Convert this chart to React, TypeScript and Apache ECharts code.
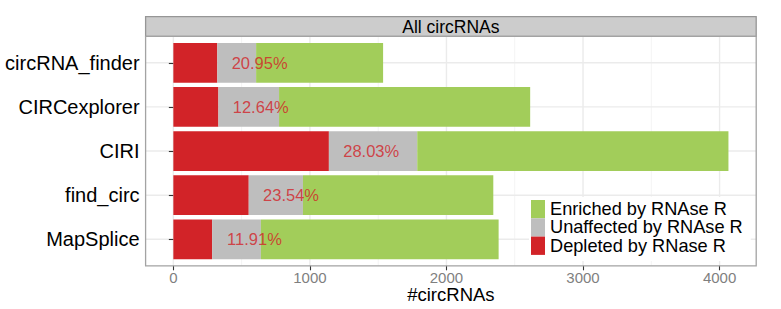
import React, { useEffect, useRef } from "react";
import * as echarts from "echarts";

// ---- data ----
const categories = ["circRNA_finder", "CIRCexplorer", "CIRI", "find_circ", "MapSplice"];
const depleted = [322, 330, 1139, 552, 284];
const unaffected = [284, 444, 647, 397, 357];
const enriched = [930, 1839, 2279, 1394, 1741];
const depletedPct = [20.95, 12.64, 28.03, 23.54, 11.91];
const xTicks = [0, 1000, 2000, 3000, 4000];
const xMinorTicks = [500, 1500, 2500, 3500];
const seriesNames = ["Depleted by RNase R", "Unaffected by RNAse R", "Enriched by RNAse R"];
const legendOrder = ["Enriched by RNAse R", "Unaffected by RNAse R", "Depleted by RNase R"];
const stripTitle = "All circRNAs";
const xTitle = "#circRNAs";

// ---- layout / style ----
const W = 781;
const H = 309;
const PANEL = { left: 145.6, right: 756.2, top: 36.3, bottom: 265.8 };
const STRIP_TOP = 16.7;
const CAT_EXPAND = 0.6;
const X_EXPAND = 0.05;
const LABEL_OFFSET = 310;
const FONT = "'Liberation Sans', Arial, Helvetica, sans-serif";
const RED = "#D22328";
const GRAY = "#BEBEBE";
const GREEN = "#A2CD5A";
const COLORS = [RED, GRAY, GREEN];

export default function App() {
  const ref = useRef<HTMLDivElement>(null);

  useEffect(() => {
    if (!ref.current) return;
    const chart = echarts.init(ref.current, undefined, { renderer: "svg" });

    const n = categories.length;
    const unit = (PANEL.bottom - PANEL.top) / (n - 1 + 2 * CAT_EXPAND);
    const pad = (CAT_EXPAND - 0.5) * unit;
    const gridTop = PANEL.top + pad;
    const gridBottom = PANEL.bottom - pad;

    const totals = categories.map((_, i) => depleted[i] + unaffected[i] + enriched[i]);
    const maxTotal = Math.max(...totals);
    const xMin = -X_EXPAND * maxTotal;
    const xMax = maxTotal * (1 + X_EXPAND);

    const values = [depleted, unaffected, enriched];

    const barSeries = seriesNames.map((name, k) => ({
      name,
      type: "bar",
      stack: "total",
      barWidth: "90%",
      itemStyle: { color: COLORS[k] },
      data: values[k],
      z: 2,
    }));

    const option: any = {
      animation: false,
      textStyle: { fontFamily: FONT },
      grid: {
        left: PANEL.left,
        right: W - PANEL.right,
        top: gridTop,
        bottom: H - gridBottom,
        containLabel: false,
        outerBoundsMode: "none",
      },
      xAxis: {
        type: "value",
        min: xMin,
        max: xMax,
        offset: PANEL.bottom - gridBottom,
        axisLine: { show: false },
        splitLine: { show: false },
        axisTick: {
          show: true,
          customValues: xTicks,
          length: 4.5,
          lineStyle: { color: "#333333", width: 1.1 },
        },
        axisLabel: {
          customValues: xTicks,
          color: "#7F7F7F",
          fontSize: 15,
          fontFamily: FONT,
          margin: 4,
          formatter: (v: number) => String(v),
        },
        name: xTitle,
        nameLocation: "middle",
        nameGap: 19.5,
        nameMoveOverlap: false,
        nameTextStyle: { color: "#000000", fontSize: 18.5, fontFamily: FONT },
      },
      yAxis: {
        type: "category",
        inverse: true,
        data: categories,
        axisLine: { show: false },
        splitLine: { show: false },
        axisTick: {
          show: true,
          alignWithLabel: true,
          length: 4.5,
          lineStyle: { color: "#333333", width: 1.1 },
        },
        axisLabel: { color: "#000000", fontSize: 20, fontFamily: FONT, margin: 6 },
      },
      legend: {
        data: legendOrder,
        orient: "vertical",
        left: 529,
        top: 197,
        itemWidth: 14,
        itemHeight: 18.3,
        itemGap: 0,
        icon: "rect",
        padding: [3, 8, 6, 2],
        backgroundColor: "#ffffff",
        selectedMode: false,
        itemStyle: { borderWidth: 0 },
        textStyle: { color: "#000000", fontSize: 18.2, fontFamily: FONT, lineHeight: 18.3 },
      },
      graphic: [
        {
          type: "rect",
          shape: {
            x: PANEL.left,
            y: STRIP_TOP,
            width: PANEL.right - PANEL.left,
            height: PANEL.top - STRIP_TOP,
          },
          style: { fill: "#CCCCCC", stroke: "#969696", lineWidth: 1.3 },
          z: 10,
        },
        {
          type: "text",
          x: (PANEL.left + PANEL.right) / 2,
          y: (STRIP_TOP + PANEL.top) / 2,
          style: {
            text: stripTitle,
            fill: "#000000",
            font: `17.5px ${FONT}`,
            align: "center",
            verticalAlign: "middle",
          },
          z: 11,
        },
        {
          type: "rect",
          shape: {
            x: PANEL.left,
            y: PANEL.top,
            width: PANEL.right - PANEL.left,
            height: PANEL.bottom - PANEL.top,
          },
          style: { fill: "none", stroke: "#A3A3A3", lineWidth: 1.3 },
          z: 10,
        },
      ],
      series: [
        {
          type: "custom",
          silent: true,
          clip: false,
          z: 0,
          data: [
            ...xMinorTicks.map((v) => [v, 0, 1]),
            ...xTicks.map((v) => [v, 0, 0]),
          ],
          renderItem: (params: any, api: any) => {
            const cs = params.coordSys;
            const x = api.coord([api.value(0), 0])[0];
            const minor = api.value(2) === 1;
            return {
              type: "line",
              shape: { x1: x, y1: cs.y - pad, x2: x, y2: cs.y + cs.height + pad },
              style: { stroke: minor ? "#F4F4F4" : "#EBEBEB", lineWidth: minor ? 1 : 1.4 },
            };
          },
        },
        {
          type: "custom",
          silent: true,
          clip: false,
          z: 0,
          data: categories.map((c) => [0, c]),
          renderItem: (params: any, api: any) => {
            const cs = params.coordSys;
            const y = api.coord([0, params.dataIndex])[1];
            return {
              type: "line",
              shape: { x1: cs.x, y1: y, x2: cs.x + cs.width, y2: y },
              style: { stroke: "#EBEBEB", lineWidth: 1.4 },
            };
          },
        },
        ...barSeries,
        {
          type: "scatter",
          silent: true,
          symbol: "circle",
          symbolSize: 1,
          itemStyle: { color: "rgba(0,0,0,0)" },
          z: 5,
          data: categories.map((c, i) => [depleted[i] + LABEL_OFFSET, c]),
          label: {
            show: true,
            position: "inside",
            color: RED,
            fontSize: 16.5,
            fontFamily: FONT,
            formatter: (p: any) => depletedPct[p.dataIndex].toFixed(2) + "%",
          },
        },
      ],
    };

    chart.setOption(option);
    return () => chart.dispose();
  }, []);

  return (
    <div
      ref={ref}
      style={{ position: "fixed", left: 0, top: 0, width: W, height: H, background: "#ffffff" }}
    />
  );
}
